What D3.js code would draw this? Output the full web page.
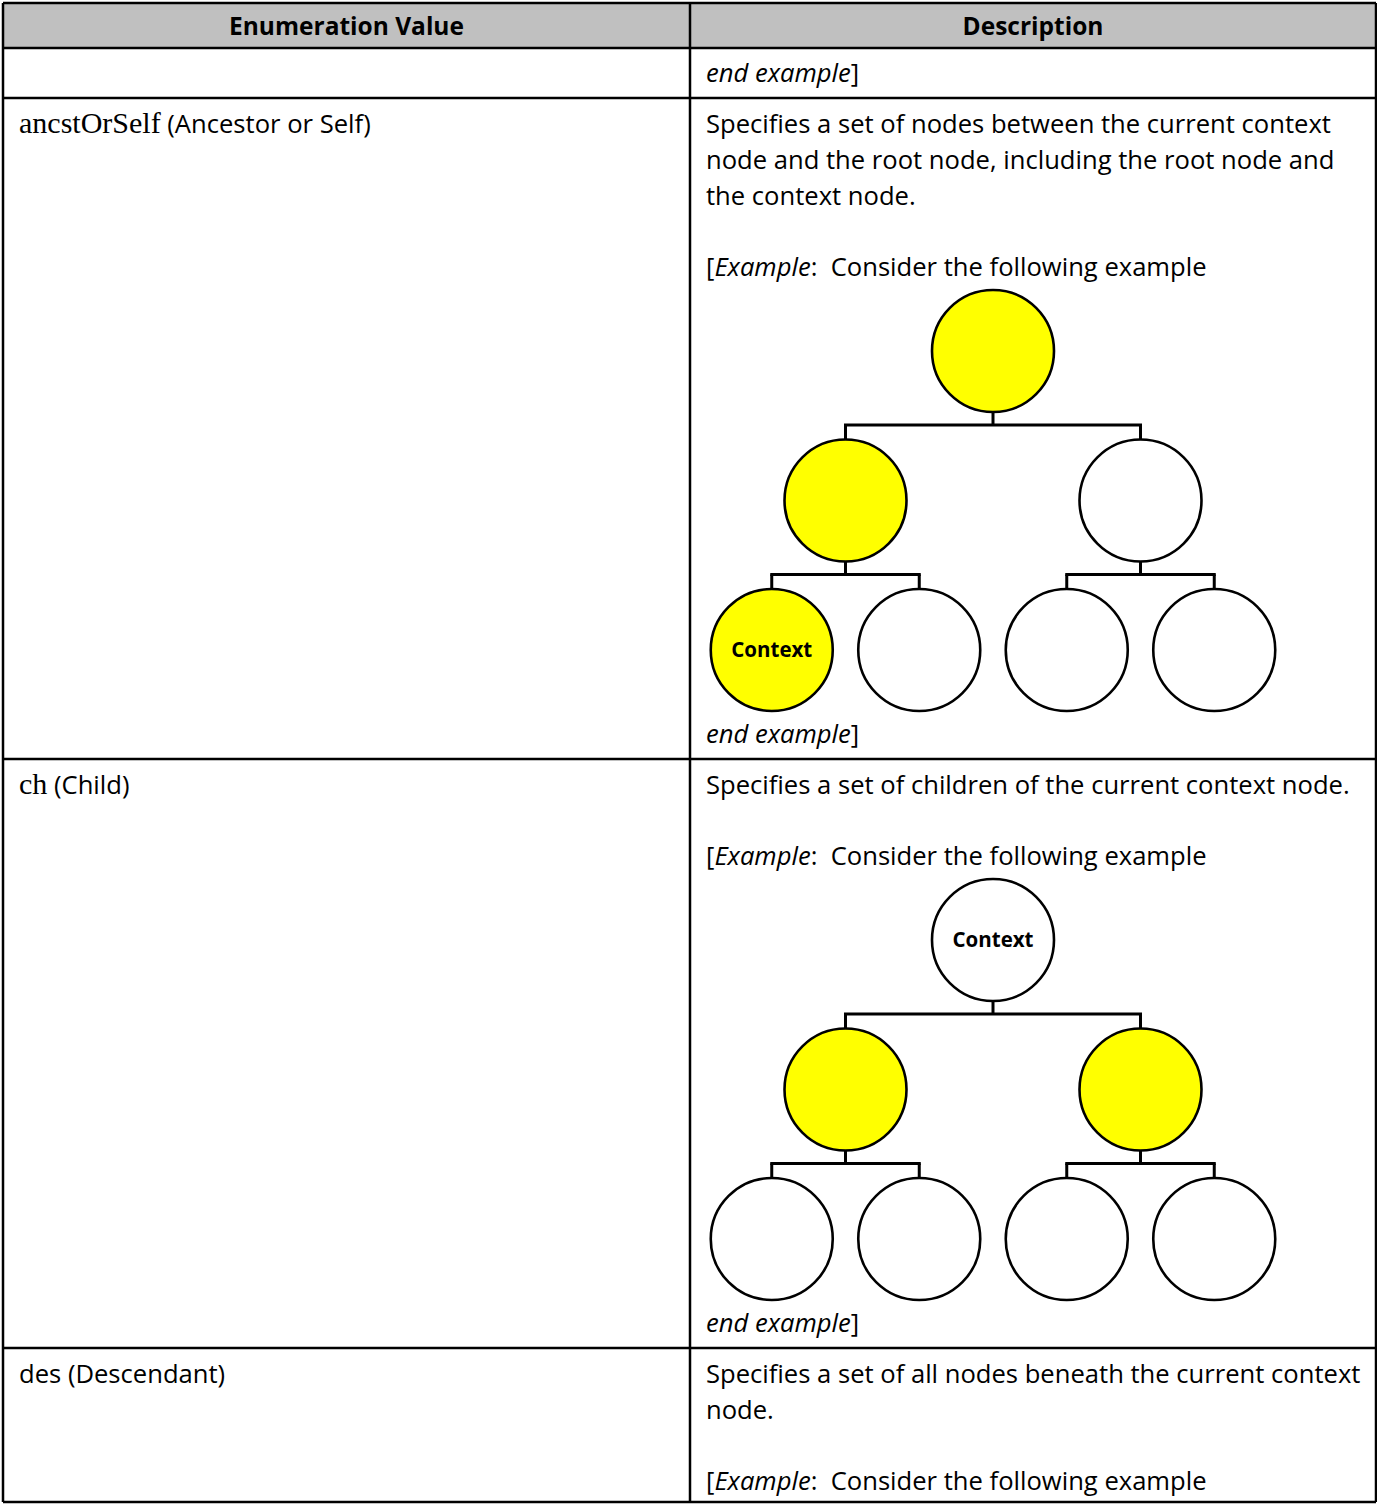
<!DOCTYPE html>
<html><head><meta charset="utf-8">
<script src="https://cdn.jsdelivr.net/npm/d3@7"></script>
<style>html,body{margin:0;padding:0;background:#fff}</style>
</head><body>
<svg id="chart" width="1377" height="1504"></svg>
<script>
// ---- data ----
const headers = ["Enumeration Value", "Description"];
const enumValues = ["", "ancstOrSelf", "ch", "des"];
const enumSerif = [false, true, true, false];
const enumLabels = ["", " (Ancestor or Self)", " (Child)", " (Descendant)"];
const descriptions = [
  [],
  ["Specifies a set of nodes between the current context", "node and the root node, including the root node and", "the context node."],
  ["Specifies a set of children of the current context node."],
  ["Specifies a set of all nodes beneath the current context", "node."]
];
const hasExample = [false, true, true, true];
const hasDiagram = [false, true, true, false];
const hasEnd = [true, true, true, false];
// tree node ids: r, a, b, a1, a2, b1, b2
const treeNodes = ["r", "a", "b", "a1", "a2", "b1", "b2"];
const treeParents = ["", "r", "r", "a", "a", "b", "b"];
const highlighted = [[], ["r", "a", "a1"], ["a", "b"], []];
const contextNode = ["", "a1", "r", ""];

// ---- layout ----
const W = 1377, H = 1504;
const tLeft = 3, tRight = 1376, colX = 690, tTop = 3;
const headerH = 45;
const lineH = 36;
const svg = d3.select("#chart");
const font = "'Open Sans', Lato, sans-serif";
const fs = 25.6;
const R = 61;
const levelGap = 149.5;
const nodeGap = 147.5;
const rootX = 993;
const tree = d3.tree().nodeSize([nodeGap, levelGap]).separation(() => 1);

// header
svg.append("rect").attr("x", tLeft).attr("y", tTop).attr("width", tRight - tLeft).attr("height", headerH)
  .attr("fill", "#c0c0c0");
const xCenters = [(tLeft + colX) / 2, (colX + tRight) / 2];
svg.selectAll("text.hdr").data(headers).join("text").attr("class", "hdr")
  .attr("x", (d, i) => xCenters[i]).attr("y", tTop + headerH / 2 + 9)
  .attr("text-anchor", "middle").attr("font-family", font).attr("font-weight", "bold")
  .attr("font-size", 24.5).text(d => d);

let rowTops = [];
let t = tTop + headerH;
enumValues.forEach((val, i) => {
  rowTops.push(t);
  if (val) {
    const tx = svg.append("text").attr("x", 19).attr("y", t + 35).attr("font-size", fs).attr("font-family", font);
    if (enumSerif[i]) {
      tx.append("tspan").attr("font-family", "'Liberation Serif', 'DejaVu Serif', serif").attr("font-size", 30).text(val);
    } else {
      tx.append("tspan").text(val);
    }
    tx.append("tspan").text(enumLabels[i]);
  }
  let y = t + 35;
  let last = y;
  descriptions[i].forEach(line => {
    svg.append("text").attr("x", 706).attr("y", y).attr("font-size", fs).attr("font-family", font).text(line);
    last = y;
    y += lineH;
  });
  if (hasExample[i]) {
    y += 35;
    const ex = svg.append("text").attr("x", 706).attr("y", y).attr("font-size", fs).attr("font-family", font);
    ex.append("tspan").text("[");
    ex.append("tspan").attr("font-style", "italic").text("Example");
    ex.append("tspan").text(":\u00a0 Consider the following example");
    last = y;
    y += lineH;
  }
  if (hasDiagram[i]) {
    const rootY = y + 39;
    const root = d3.stratify().id((d, k) => treeNodes[k]).parentId((d, k) => treeParents[k] || null)(treeNodes.map(n => ({n})));
    tree(root);
    const g = svg.append("g").attr("transform", `translate(${rootX},${rootY})`);
    const sx = d => d.x, sy = d => d.y;
    root.descendants().filter(d => d.children).forEach(p => {
      const mid = sy(p) + 74;
      g.append("line").attr("x1", sx(p)).attr("x2", sx(p)).attr("y1", sy(p) + R).attr("y2", mid)
        .attr("stroke", "#000").attr("stroke-width", 3);
      const xs = p.children.map(sx);
      g.append("line").attr("x1", d3.min(xs) - 1.5).attr("x2", d3.max(xs) + 1.5).attr("y1", mid).attr("y2", mid)
        .attr("stroke", "#000").attr("stroke-width", 3);
      p.children.forEach(c => {
        g.append("line").attr("x1", sx(c)).attr("x2", sx(c)).attr("y1", mid).attr("y2", sy(c) - R)
          .attr("stroke", "#000").attr("stroke-width", 3);
      });
    });
    g.selectAll("circle").data(root.descendants()).join("circle")
      .attr("cx", sx).attr("cy", sy).attr("r", R)
      .attr("fill", d => highlighted[i].includes(d.id) ? "#ffff00" : "#fff")
      .attr("stroke", "#000").attr("stroke-width", 2.6);
    const cn = root.descendants().find(d => d.id === contextNode[i]);
    if (cn) {
      g.append("text").attr("x", sx(cn)).attr("y", sy(cn) + 7).attr("text-anchor", "middle")
        .attr("font-family", font).attr("font-weight", "bold").attr("font-size", 20.5).text("Context");
    }
    y = rootY + 2 * levelGap + R + 32;
  }
  if (hasEnd[i]) {
    if (i === 0) y = t + 34;
    const en = svg.append("text").attr("x", 706).attr("y", y).attr("font-size", fs).attr("font-family", font);
    en.append("tspan").attr("font-style", "italic").text("end example");
    en.append("tspan").text("]");
    last = y;
  }
  t = last + 16;
});
const tBottom = Math.min(t, H - 2);

// grid lines
const gl = svg.append("g").attr("stroke", "#000").attr("stroke-width", 2.5);
gl.append("line").attr("x1", tLeft).attr("x2", tLeft).attr("y1", tTop).attr("y2", tBottom);
gl.append("line").attr("x1", tRight).attr("x2", tRight).attr("y1", tTop).attr("y2", tBottom);
gl.append("line").attr("x1", colX).attr("x2", colX).attr("y1", tTop).attr("y2", tBottom);
gl.append("line").attr("x1", tLeft).attr("x2", tRight).attr("y1", tTop).attr("y2", tTop);
gl.append("line").attr("x1", tLeft).attr("x2", tRight).attr("y1", tBottom).attr("y2", tBottom);
rowTops.forEach(rt => gl.append("line").attr("x1", tLeft).attr("x2", tRight).attr("y1", rt).attr("y2", rt));
</script>
</body></html>
